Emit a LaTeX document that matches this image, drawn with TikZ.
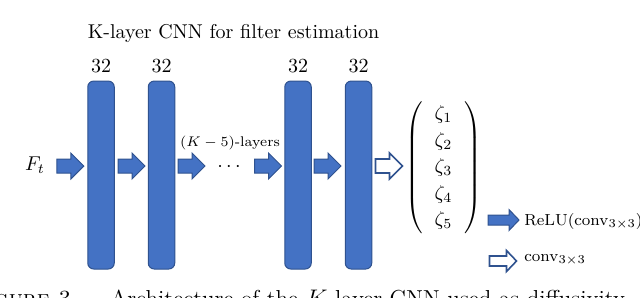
\documentclass[tikz,border=0pt]{standalone}
\definecolor{barblue}{HTML}{4472C4}
\definecolor{edgeblue}{HTML}{2F528F}
\begin{document}
\begin{tikzpicture}[x=0.5pt,y=-0.5pt,
  layerbar/.style={draw=edgeblue,line width=0.5pt,fill=barblue,rounded corners=3pt,
    minimum width=13.25pt,minimum height=94pt,inner sep=0pt},
  filledarrow/.style={draw=edgeblue,line width=0.5pt,fill=barblue,line join=miter},
  hollowarrow/.style={draw=edgeblue,line width=0.8pt,fill=white,line join=miter},
  pics/blockarr/.style n args={4}{code={
    \path[pic actions] ({-#1/2},{-#2/2}) -- ({#1/2-#4},{-#2/2}) -- ({#1/2-#4},{-#3/2})
      -- ({#1/2},0) -- ({#1/2-#4},{#3/2}) -- ({#1/2-#4},{#2/2}) -- ({-#1/2},{#2/2}) -- cycle;
    \coordinate (-c) at (0,0);}},
  legendtext/.style={anchor=west,inner sep=0pt,font=\fontsize{8}{10}\selectfont},
  lbl/.style={inner sep=0pt,anchor=base}]
\useasboundingbox (0,0) rectangle (640,297);
\clip (0,0) rectangle (640,297);
% title
\node[lbl] (title) at (233.5,38) {K-layer CNN for filter estimation};
% bars
\node[layerbar] (b1) at (101,175) {};
\node[layerbar] (b2) at (161.5,175) {};
\node[layerbar] (b3) at (298,175) {};
\node[layerbar] (b4) at (358.5,175) {};
\foreach \b in {b1,b2,b3,b4}{\node[lbl] (n\b) at (\b.north |- 0,72) {32};}
% input
\node[lbl] (ft) at (35,170) {$F_t$};
% block arrows
\pic[filledarrow] (a0) at (70.3,166) {blockarr={27}{14}{26}{13}};
\pic[filledarrow] (a1) at (131.5,166) {blockarr={27}{14}{26}{13}};
\pic[filledarrow] (a2) at (191.5,166) {blockarr={27}{14}{26}{13}};
\pic[filledarrow] (a3) at (268,166) {blockarr={27}{14}{26}{13}};
\pic[filledarrow] (a4) at (327.5,166) {blockarr={27}{14}{26}{13}};
\pic[hollowarrow] (a5) at (389,166) {blockarr={27}{14}{26}{13}};
\node[inner sep=0pt] (dots) at (229,167) {$\cdots$};
\node[lbl,font=\scriptsize] (kl) at (230,146) {$(K-5)$-layers};
% output vector
\node[inner sep=0pt] (zeta) at (443.5,167.5)
  {$\arraycolsep=6pt\renewcommand{\arraystretch}{1.1}\left(\begin{array}{c}\zeta_1\\ \zeta_2\\ \zeta_3\\ \zeta_4\\ \zeta_5\end{array}\right)$};
% legend
\pic[filledarrow] (la1) at (503.5,220) {blockarr={31}{10}{21}{10}};
\node[legendtext] (lt1) at (524,221) {$\mathrm{ReLU}(\mathrm{conv}_{3\times 3})$};
\pic[hollowarrow] (la2) at (503,261) {blockarr={27}{10}{21}{10}};
\node[legendtext] (lt2) at (524,260) {$\mathrm{conv}_{3\times 3}$};
% caption (cut by the frame)
\node[anchor=base east,inner sep=0pt,font=\fontsize{11.55}{14}\selectfont] (cap1) at (79,306) {\textsc{Figure 3.}};
\node[anchor=base west,inner sep=0pt,font=\fontsize{11.55}{14}\selectfont] (cap2) at (110,306) {Architecture of the $K$-layer CNN used as diffusivity};
\end{tikzpicture}
\end{document}
